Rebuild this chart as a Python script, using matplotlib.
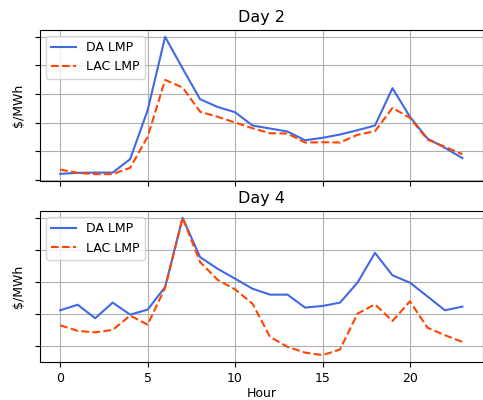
import matplotlib
matplotlib.use("Agg")
import matplotlib.pyplot as plt

hours = list(range(24))

day2_da = [24.2, 24.9, 25.1, 25.1, 34.5, 68.7, 120.0, 97.9, 76.4, 71.0, 67.3, 58.0,
           55.9, 53.8, 47.7, 49.4, 51.7, 54.7, 58.0, 84.1, 64.1, 48.9, 42.4, 35.2]
day2_lac = [27.2, 24.9, 24.0, 24.0, 28.4, 50.1, 89.9, 84.6, 67.6, 64.1, 60.1, 56.1,
            52.6, 52.4, 46.1, 46.3, 46.1, 51.5, 54.0, 70.3, 63.4, 48.2, 43.1, 37.9]

day4_da = [42.1, 45.6, 37.1, 46.9, 39.4, 42.5, 56.7, 100.0, 75.4, 68.1, 61.9, 55.6,
           51.9, 51.9, 43.8, 44.8, 46.9, 59.4, 78.1, 64.0, 59.4, 50.8, 42.1, 44.4]
day4_lac = [32.7, 29.2, 28.3, 29.8, 38.8, 33.1, 56.2, 100.0, 72.3, 61.2, 55.2, 46.2,
            25.4, 19.2, 15.6, 14.0, 17.5, 40.0, 45.8, 35.4, 47.7, 31.2, 26.5, 22.3]

panels = [("Day 2", day2_da, day2_lac), ("Day 4", day4_da, day4_lac)]

plt.rcParams["font.size"] = 9

fig = plt.figure(figsize=(4.83, 4.0), dpi=100)
ax1 = fig.add_axes([0.083, 0.5475, 0.916, 0.3775])
ax2 = fig.add_axes([0.083, 0.095, 0.916, 0.3775], sharex=ax1)

for ax, (title, da, lac) in zip([ax1, ax2], panels):
    ax.plot(hours, da, "-", color="royalblue", lw=1.5, label="DA LMP")
    ax.plot(hours, lac, "--", color="orangered", lw=1.5, label="LAC LMP")
    ax.set_title(title, fontsize=11.5)
    ax.set_ylabel(r"\$/MWh")
    ax.set_yticklabels([])
    ax.grid(True)
    ax.legend(loc="upper left")

ax1.tick_params(labelbottom=False)
ax2.set_xlabel("Hour", labelpad=1.5)
ax2.set_xticks([0, 5, 10, 15, 20])

fig.savefig("out.png", dpi=100)
